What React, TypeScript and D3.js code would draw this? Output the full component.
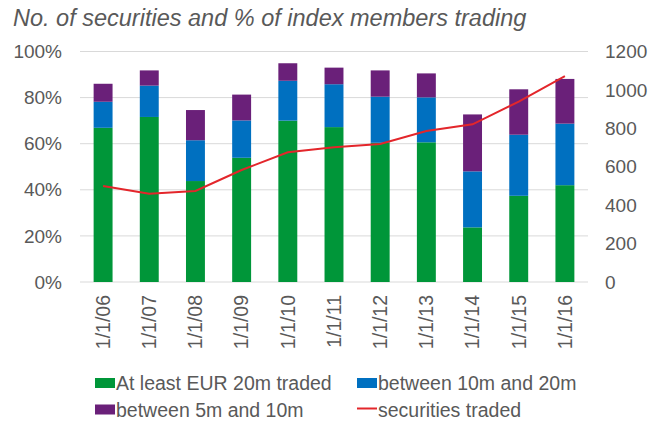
import React from "react";
import * as d3 from "d3";

const categories = ["1/1/06", "1/1/07", "1/1/08", "1/1/09", "1/1/10", "1/1/11", "1/1/12", "1/1/13", "1/1/14", "1/1/15", "1/1/16"];
const atLeast20m = [66.9, 71.6, 43.8, 53.9, 70.0, 67.2, 60.4, 60.6, 23.7, 37.4, 42.0];
const between10and20 = [11.3, 13.6, 17.7, 16.2, 17.3, 18.6, 20.0, 19.5, 24.3, 26.5, 26.7];
const between5and10 = [7.8, 6.6, 13.1, 11.2, 7.6, 7.2, 11.4, 10.4, 24.7, 19.7, 19.4];
const securitiesTraded = [500, 460, 474, 583, 675, 702, 718, 786, 821, 939, 1072];
const leftTicks = [0, 20, 40, 60, 80, 100];
const rightTicks = [0, 200, 400, 600, 800, 1000, 1200];

const seriesNames = ["At least EUR 20m traded", "between 10m and 20m", "between 5m and 10m", "securities traded"];
const colors = ["#009639", "#0070C0", "#6A2079", "#E3262B"];

const W = 667, H = 423;
const M = { left: 80, right: 588, top: 51.5, bottom: 282 };
const FONT = "'Liberation Sans', Arial, sans-serif";
const TEXT = "#595959";

export default function App() {
  const x = d3.scaleBand<string>().domain(categories).range([M.left, M.right]).paddingInner(0.59).paddingOuter(0.295);
  const yL = d3.scaleLinear().domain([0, 100]).range([M.bottom, M.top]);
  const yR = d3.scaleLinear().domain([0, 1200]).range([M.bottom, M.top]);

  const rows = categories.map((c, i) => ({ c, s0: atLeast20m[i], s1: between10and20[i], s2: between5and10[i] }));
  const stacked = d3.stack<any>().keys(["s0", "s1", "s2"])(rows);

  const line = d3.line<number>()
    .x((_, i) => (x(categories[i]) as number) + x.bandwidth() / 2)
    .y((d) => yR(d));

  const legend = [
    { name: seriesNames[0], color: colors[0], type: "rect", lx: 95, ly: 390 },
    { name: seriesNames[1], color: colors[1], type: "rect", lx: 357, ly: 390 },
    { name: seriesNames[2], color: colors[2], type: "rect", lx: 95, ly: 416.5 },
    { name: seriesNames[3], color: colors[3], type: "line", lx: 357, ly: 416.5 },
  ];

  return (
    <svg width={W} height={H} style={{ position: "absolute", left: 0, top: 0, background: "#fff" }} fontFamily={FONT}>
      <text x={13} y={26} fontSize={23.5} fontStyle="italic" fill={TEXT}>No. of securities and % of index members trading</text>
      {leftTicks.map((t) => (
        <g key={"l" + t}>
          <line x1={M.left} x2={M.right} y1={yL(t)} y2={yL(t)} stroke="#d9d9d9" strokeWidth={1} />
          <text x={62} y={yL(t)} dy="0.35em" textAnchor="end" fontSize={19} fill={TEXT}>{t}%</text>
        </g>
      ))}
      {rightTicks.map((t) => (
        <text key={"r" + t} x={605} y={yR(t)} dy="0.35em" textAnchor="start" fontSize={19} fill={TEXT}>{t}</text>
      ))}
      {stacked.map((s, si) => (
        <g key={si} fill={colors[si]}>
          {s.map((d, i) => (
            <rect key={i} x={x(categories[i])} width={x.bandwidth()} y={yL(d[1])} height={yL(d[0]) - yL(d[1])} />
          ))}
        </g>
      ))}
      <path d={line(securitiesTraded) || ""} fill="none" stroke={colors[3]} strokeWidth={2} />
      {categories.map((c) => {
        const cx = (x(c) as number) + x.bandwidth() / 2;
        return (
          <text key={c} transform={`translate(${cx},${295}) rotate(-90)`} textAnchor="end" dy="0.35em" fontSize={19.5} fill={TEXT}>{c}</text>
        );
      })}
      {legend.map((l) => (
        <g key={l.name}>
          {l.type === "rect" ? (
            <rect x={l.lx} y={l.ly - 12} width={20} height={10} fill={l.color} />
          ) : (
            <line x1={l.lx} x2={l.lx + 20} y1={l.ly - 8} y2={l.ly - 8} stroke={l.color} strokeWidth={2} />
          )}
          <text x={l.lx + 21} y={l.ly} fontSize={19.5} fill={TEXT}>{l.name}</text>
        </g>
      ))}
    </svg>
  );
}
